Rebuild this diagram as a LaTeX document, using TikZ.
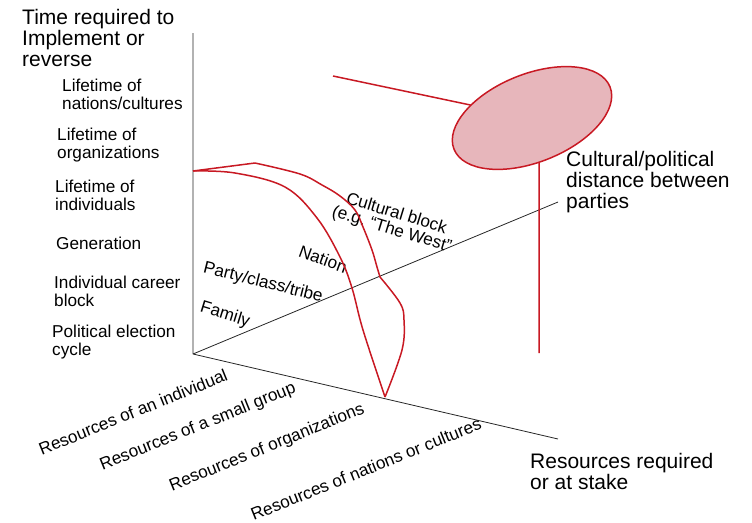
\documentclass[tikz,border=0pt]{standalone}
\usepackage{fontspec}
\setmainfont{Liberation Sans}
\usetikzlibrary{shapes.geometric}
\definecolor{cRed}{RGB}{200,25,35}
\definecolor{cPink}{RGB}{231,182,187}
\begin{document}
\begin{tikzpicture}
		[x=1pt, y=-1pt,
		axis/.style ={draw=black!85, line width=0.8pt},
		redline/.style ={draw=cRed, line width=1.5pt},
		small/.style ={inner sep=0pt, align=left, anchor=base west, font=\fontsize{17.2}{17.5}\selectfont},
		big/.style ={inner sep=0pt, align=left, anchor=base west, font=\fontsize{21}{21}\selectfont},
		tilted/.style ={inner sep=0pt, font=\fontsize{17.2}{16.5}\selectfont}]
		\useasboundingbox (0,0) rectangle (752,522);

		% axes
		\coordinate (origin) at (193,354);
		\coordinate (timetop) at (193,33);
		\coordinate (disttip) at (558,202);
		\coordinate (restip) at (558,439);
		\path[axis]
		(origin) -- (timetop)
		(origin) -- (disttip)
		(origin) -- (restip);

		% axis titles (base = last line)
		\node[big] (timettl) at (22,66) {Time required to\\Implement or\\reverse};
		\node[big] (distttl) at (566,208) {Cultural/political\\distance between\\parties};
		\node[big] (resttl) at (530,489) {Resources required\\or at stake};

		% time scale
		\node[small] (tnation) at (62,109) {Lifetime of\\nations/cultures};
		\node[small] (torg) at (57,158) {Lifetime of\\organizations};
		\node[small] (tindiv) at (55,210) {Lifetime of\\individuals};
		\node[small] (tgen) at (56,249) {Generation};
		\node[small] (tcareer) at (54,306) {Individual career\\block};
		\node[small] (telect) at (52,355) {Political election\\cycle};

		% resource scale
		\node[tilted, rotate=22] (rindiv) at (133,412) {Resources of an individual};
		\node[tilted, rotate=22] (rgroup) at (198,427) {Resources of a small group};
		\node[tilted, rotate=22] (rorg) at (267,448) {Resources of organizations};
		\node[tilted, rotate=22] (rnation) at (366,469) {Resources of nations or cultures};

		% distance scale
		\node[tilted, rotate=-17] (dfamily) at (225,315) {Family};
		\node[tilted, rotate=-14] (dparty) at (263,283) {Party/class/tribe};
		\node[tilted, rotate=-20] (dnation) at (323,259) {Nation};
		\node[tilted, rotate=-17, align=center] (dblock) at (394,222) {Cultural block\\(e.g.\ “The West”};

		% envelopes
		\draw[redline] plot[smooth, tension=0.6] coordinates
		{(193,171) (235,173) (285,187) (317,218) (340,257) (352,288) (363,330) (385,397)};
		\draw[redline] (193,171) -- (255,163)
		plot[smooth, tension=0.6] coordinates
		{(255,163) (300,174) (322,185) (340,196) (355,210) (363,227) (372,250) (377,267) (380,277)}
		plot[smooth, tension=0.6] coordinates
		{(380,277) (400,303) (404,320) (402,350) (385,397)};

		% parties
		\coordinate (blobc) at (532,118);
		\coordinate (armend) at (333,76);
		\coordinate (stemfoot) at (539,353);
		\coordinate (stemtop) at (539,150);
		\path[redline]
		(armend) -- (blobc)
		(stemfoot) -- (stemtop);
		\node[ellipse, draw=cRed, line width=1.5pt, fill=cPink, inner sep=0pt,
		minimum width=168pt, minimum height=88pt, rotate=21.8] (party) at (blobc) {};

	\end{tikzpicture}
\end{document}
